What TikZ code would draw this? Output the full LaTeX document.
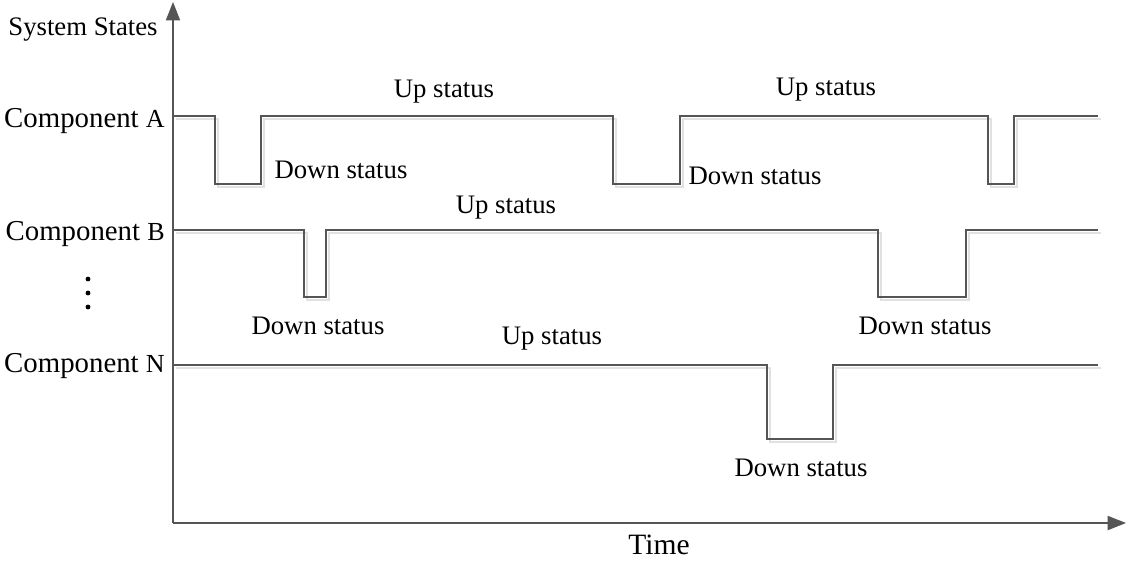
\documentclass[tikz,border=0pt]{standalone}
\usepackage{fontspec}
\setmainfont{Liberation Serif}
\usetikzlibrary{arrows.meta}
\definecolor{linegray}{RGB}{85,85,85}
\definecolor{shadowgray}{RGB}{225,225,225}
\tikzset{
    signal/.style={linegray, line width=1.1pt},
    sigshadow/.style={shadowgray, line width=1.1pt, shift={(3,3)}},
    axis/.style={linegray, line width=1.1pt, -{Triangle[length=13pt,width=10pt]}},
    lbl/.style={font=\fontsize{19}{19}\selectfont, inner sep=0pt, yshift=-2pt},
    comp/.style={font=\fontsize{20.5}{20.5}\selectfont, inner sep=0pt, anchor=east, yshift=-1.5pt}
}
\begin{document}
\begin{tikzpicture}[x=0.025cm, y=-0.025cm]
    \useasboundingbox (0,0) rectangle (1128,561);
    \coordinate (O) at (173,523);
    \coordinate (Ytop) at (173,2);
    \coordinate (Xend) at (1126,523);
    \draw [axis] (O) -- (Ytop);
    \draw [axis] (O) -- (Xend);
    \node [lbl] (states) at (83,27) {System States};
    \node [font=\fontsize{21}{21}\selectfont, inner sep=0pt] (time) at (659,545) {Time};
    % component A
    \draw [sigshadow] (173,116) -- (215,116) -- (215,184) -- (261,184) -- (261,116) -- (613,116) -- (613,184) -- (680,184) -- (680,116) -- (988,116) -- (988,184) -- (1014,184) -- (1014,116) -- (1098,116);
    \draw [signal] (173,116) -- (215,116) -- (215,184) -- (261,184) -- (261,116) -- (613,116) -- (613,184) -- (680,184) -- (680,116) -- (988,116) -- (988,184) -- (1014,184) -- (1014,116) -- (1098,116);
    \node [comp] (compA) at (165,119) {Component {\fontsize{18.5}{18.5}\selectfont A}};
    \node [lbl] (upA1) at (444,89) {Up status};
    \node [lbl] (upA2) at (826,87) {Up status};
    \node [lbl] (downA1) at (341,167) {Down status};
    \node [lbl] (downA2) at (755,173) {Down status};
    % component B
    \draw [sigshadow] (173,230) -- (304,230) -- (304,297) -- (326,297) -- (326,230) -- (878,230) -- (878,297) -- (966,297) -- (966,230) -- (1098,230);
    \draw [signal] (173,230) -- (304,230) -- (304,297) -- (326,297) -- (326,230) -- (878,230) -- (878,297) -- (966,297) -- (966,230) -- (1098,230);
    \node [comp] (compB) at (165,232) {Component {\fontsize{18.5}{18.5}\selectfont B}};
    \node [lbl] (upB) at (506,205) {Up status};
    \node [lbl] (downB1) at (318,323) {Down status};
    \node [lbl] (downB2) at (925,323) {Down status};
    % dots
    \foreach \yy in {279,293,307}
        \fill (88,\yy) circle (2.4);
    % component N
    \draw [sigshadow] (173,365) -- (767,365) -- (767,439) -- (833,439) -- (833,365) -- (1098,365);
    \draw [signal] (173,365) -- (767,365) -- (767,439) -- (833,439) -- (833,365) -- (1098,365);
    \node [comp] (compN) at (165,364) {Component {\fontsize{18.5}{18.5}\selectfont N}};
    \node [lbl] (upN) at (552,336) {Up status};
    \node [lbl] (downN) at (801,465) {Down status};
\end{tikzpicture}
\end{document}
